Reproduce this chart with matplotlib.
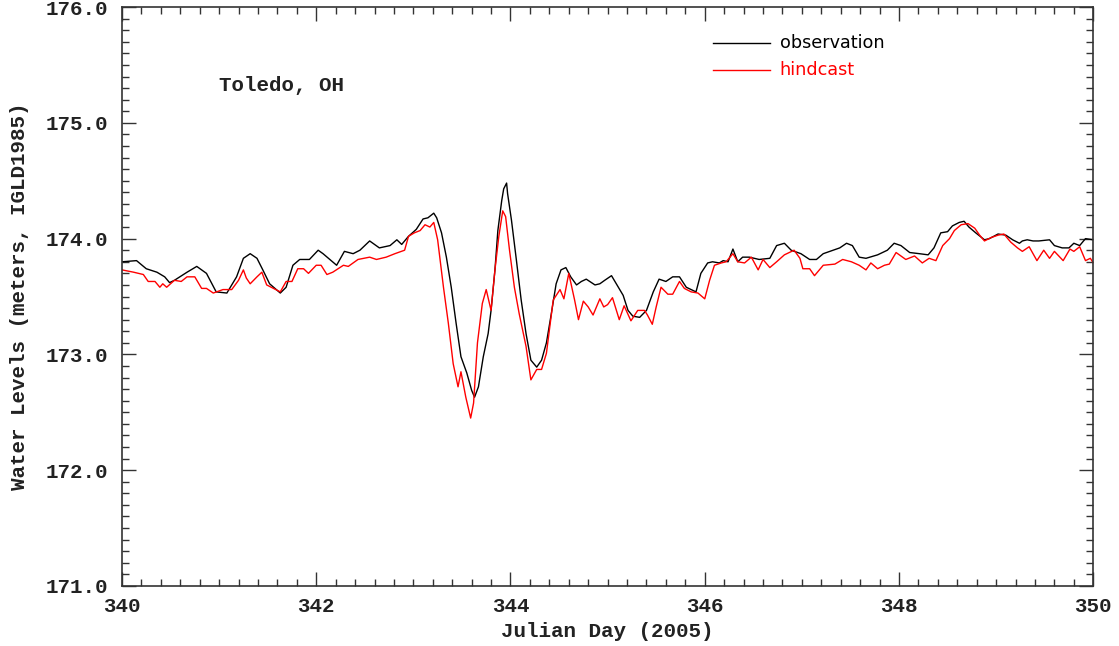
import matplotlib
matplotlib.use("Agg")
import matplotlib.pyplot as plt
from matplotlib.ticker import MultipleLocator, FormatStrFormatter

# observed water level at Toledo, OH (Julian day, meters IGLD1985)
obs_day = [340.00, 340.15, 340.25, 340.36, 340.44, 340.49, 340.54, 340.67, 340.77, 340.87,
           340.97, 341.08, 341.18, 341.25, 341.32, 341.39, 341.45, 341.52, 341.63, 341.69,
           341.76, 341.83, 341.93, 342.02, 342.07, 342.21, 342.29, 342.38, 342.45, 342.55,
           342.65, 342.76, 342.83, 342.88, 342.95, 343.03, 343.10, 343.15, 343.21, 343.24,
           343.29, 343.34, 343.39, 343.44, 343.49, 343.55, 343.60, 343.63, 343.67, 343.72,
           343.77, 343.80, 343.84, 343.87, 343.91, 343.93, 343.96, 343.97, 344.01, 344.06,
           344.11, 344.16, 344.21, 344.27, 344.32, 344.37, 344.42, 344.47, 344.52, 344.57,
           344.62, 344.68, 344.73, 344.78, 344.87, 344.92, 344.97, 345.04, 345.11, 345.16,
           345.21, 345.26, 345.33, 345.40, 345.47, 345.53, 345.60, 345.67, 345.74, 345.81,
           345.86, 345.91, 345.96, 346.03, 346.08, 346.15, 346.19, 346.24, 346.29, 346.34,
           346.39, 346.46, 346.56, 346.67, 346.74, 346.82, 346.89, 346.99, 347.08, 347.15,
           347.22, 347.32, 347.39, 347.46, 347.52, 347.59, 347.66, 347.78, 347.88, 347.95,
           348.02, 348.11, 348.21, 348.30, 348.36, 348.43, 348.50, 348.55, 348.62, 348.67,
           348.72, 348.79, 348.88, 348.93, 349.02, 349.10, 349.17, 349.24, 349.27, 349.32,
           349.38, 349.44, 349.55, 349.60, 349.68, 349.75, 349.80, 349.86, 349.92, 350.00]
obs_level = [173.80, 173.81, 173.74, 173.71, 173.67, 173.62, 173.64, 173.71, 173.76, 173.70,
             173.54, 173.53, 173.67, 173.83, 173.87, 173.83, 173.73, 173.61, 173.53, 173.58,
             173.77, 173.82, 173.82, 173.90, 173.87, 173.77, 173.89, 173.87, 173.90, 173.98,
             173.92, 173.94, 173.99, 173.95, 174.02, 174.08, 174.17, 174.18, 174.22, 174.18,
             174.05, 173.84, 173.58, 173.27, 172.98, 172.84, 172.69, 172.63, 172.72, 172.98,
             173.18, 173.38, 173.73, 174.07, 174.33, 174.43, 174.48, 174.39, 174.16, 173.82,
             173.47, 173.18, 172.95, 172.89, 172.95, 173.10, 173.35, 173.61, 173.73, 173.75,
             173.67, 173.60, 173.63, 173.65, 173.60, 173.61, 173.64, 173.68, 173.58, 173.51,
             173.38, 173.33, 173.32, 173.38, 173.54, 173.65, 173.63, 173.67, 173.67, 173.58,
             173.56, 173.54, 173.70, 173.79, 173.80, 173.79, 173.81, 173.80, 173.91, 173.80,
             173.84, 173.84, 173.82, 173.83, 173.94, 173.96, 173.90, 173.87, 173.82, 173.82,
             173.87, 173.90, 173.92, 173.96, 173.94, 173.84, 173.83, 173.86, 173.90, 173.96,
             173.94, 173.88, 173.87, 173.86, 173.92, 174.05, 174.06, 174.11, 174.14, 174.15,
             174.10, 174.05, 173.99, 174.00, 174.04, 174.03, 173.99, 173.96, 173.98, 173.99,
             173.98, 173.98, 173.99, 173.94, 173.92, 173.92, 173.96, 173.94, 174.00, 173.99]

# model hindcast
hind_day = [340.00, 340.12, 340.22, 340.27, 340.34, 340.39, 340.42, 340.46, 340.54, 340.61,
            340.67, 340.75, 340.82, 340.87, 340.94, 341.04, 341.13, 341.20, 341.25, 341.28,
            341.32, 341.39, 341.44, 341.49, 341.56, 341.63, 341.69, 341.75, 341.81, 341.87,
            341.92, 342.00, 342.05, 342.11, 342.17, 342.28, 342.33, 342.43, 342.55, 342.62,
            342.72, 342.81, 342.91, 342.95, 343.01, 343.07, 343.12, 343.17, 343.21, 343.25,
            343.31, 343.36, 343.41, 343.46, 343.49, 343.54, 343.59, 343.62, 343.66, 343.71,
            343.75, 343.80, 343.84, 343.88, 343.92, 343.95, 343.99, 344.04, 344.09, 344.16,
            344.21, 344.27, 344.32, 344.37, 344.44, 344.51, 344.55, 344.60, 344.66, 344.70,
            344.75, 344.80, 344.85, 344.92, 344.96, 345.00, 345.05, 345.12, 345.17, 345.24,
            345.31, 345.38, 345.41, 345.46, 345.50, 345.55, 345.62, 345.67, 345.74, 345.79,
            345.86, 345.93, 346.00, 346.05, 346.10, 346.17, 346.22, 346.29, 346.34, 346.41,
            346.48, 346.55, 346.60, 346.67, 346.74, 346.82, 346.92, 346.98, 347.01, 347.08,
            347.13, 347.22, 347.34, 347.42, 347.51, 347.59, 347.66, 347.71, 347.78, 347.85,
            347.90, 347.97, 348.07, 348.16, 348.24, 348.31, 348.38, 348.45, 348.52, 348.57,
            348.64, 348.71, 348.78, 348.83, 348.88, 348.95, 349.02, 349.08, 349.15, 349.22,
            349.27, 349.34, 349.42, 349.49, 349.55, 349.60, 349.69, 349.76, 349.80, 349.86,
            349.92, 349.97, 350.00]
hind_level = [173.73, 173.71, 173.69, 173.63, 173.63, 173.58, 173.61, 173.58, 173.64, 173.63,
              173.67, 173.67, 173.57, 173.57, 173.53, 173.56, 173.56, 173.64, 173.73, 173.66,
              173.61, 173.67, 173.71, 173.60, 173.57, 173.54, 173.63, 173.63, 173.74, 173.74,
              173.70, 173.77, 173.77, 173.69, 173.71, 173.77, 173.76, 173.82, 173.84, 173.82,
              173.84, 173.87, 173.90, 174.02, 174.05, 174.07, 174.12, 174.10, 174.14, 173.99,
              173.58, 173.27, 172.92, 172.72, 172.85, 172.63, 172.45, 172.58, 173.10, 173.44,
              173.56, 173.38, 173.73, 174.02, 174.24, 174.19, 173.90, 173.58, 173.35, 173.07,
              172.78, 172.87, 172.87, 173.01, 173.47, 173.56, 173.48, 173.70, 173.47, 173.30,
              173.46, 173.41, 173.34, 173.48, 173.41, 173.43, 173.49, 173.30, 173.42, 173.29,
              173.38, 173.38, 173.34, 173.26, 173.41, 173.58, 173.52, 173.52, 173.63, 173.57,
              173.54, 173.53, 173.48, 173.64, 173.77, 173.79, 173.80, 173.87, 173.80, 173.79,
              173.84, 173.73, 173.82, 173.75, 173.80, 173.86, 173.90, 173.83, 173.74, 173.74,
              173.68, 173.77, 173.78, 173.82, 173.80, 173.77, 173.73, 173.79, 173.74, 173.77,
              173.78, 173.88, 173.82, 173.85, 173.79, 173.83, 173.81, 173.94, 174.00, 174.07,
              174.12, 174.13, 174.09, 174.03, 173.98, 174.01, 174.03, 174.04, 173.97, 173.92,
              173.89, 173.93, 173.81, 173.90, 173.83, 173.89, 173.81, 173.91, 173.89, 173.93,
              173.81, 173.83, 173.79]

mono = "Liberation Mono"

fig = plt.figure(figsize=(11.19, 6.46), dpi=100)
ax = fig.add_axes([0.109, 0.093, 0.868, 0.896])

ax.plot(obs_day, obs_level, color="black", lw=1.0)
ax.plot(hind_day, hind_level, color="red", lw=1.0)

ax.set_xlim(340, 350)
ax.set_ylim(171, 176)
ax.xaxis.set_major_locator(MultipleLocator(2))
ax.xaxis.set_minor_locator(MultipleLocator(0.2))
ax.yaxis.set_major_locator(MultipleLocator(1))
ax.yaxis.set_minor_locator(MultipleLocator(0.1))
ax.yaxis.set_major_formatter(FormatStrFormatter("%.1f"))
ax.tick_params(which="both", direction="in", top=True, right=True, width=1.0, color="#333333")
ax.tick_params(which="major", length=10)
ax.tick_params(which="minor", length=5)
ax.tick_params(axis="x", pad=8)
ax.tick_params(axis="y", pad=10)
for lab in ax.get_xticklabels() + ax.get_yticklabels():
    lab.set_fontfamily(mono)
    lab.set_fontweight("bold")
    lab.set_fontsize(15)
    lab.set_color("#222222")
# IDL puts the top label a bit below the frame corner
ax.get_yticklabels()[-1].set_va("top")
for s in ax.spines.values():
    s.set_linewidth(1.2)
    s.set_color("#333333")

ax.set_xlabel("Julian Day (2005)", family=mono, weight="bold", fontsize=15, color="#222222", labelpad=4)
ax.set_ylabel("Water Levels (meters, IGLD1985)", family=mono, weight="bold", fontsize=15, color="#222222", labelpad=12)

ax.text(341.0, 175.32, "Toledo, OH", family=mono, weight="bold", fontsize=15, color="#222222", va="center")

# legend drawn IDL-style
ax.plot([346.08, 346.67], [175.69, 175.69], color="black", lw=1.0)
ax.plot([346.08, 346.67], [175.46, 175.46], color="red", lw=1.0)
ax.text(346.77, 175.69, "observation", fontsize=12.7, color="black", va="center", family="DejaVu Sans")
ax.text(346.77, 175.46, "hindcast", fontsize=12.7, color="red", va="center", family="DejaVu Sans")

fig.savefig("out.png", dpi=100)
